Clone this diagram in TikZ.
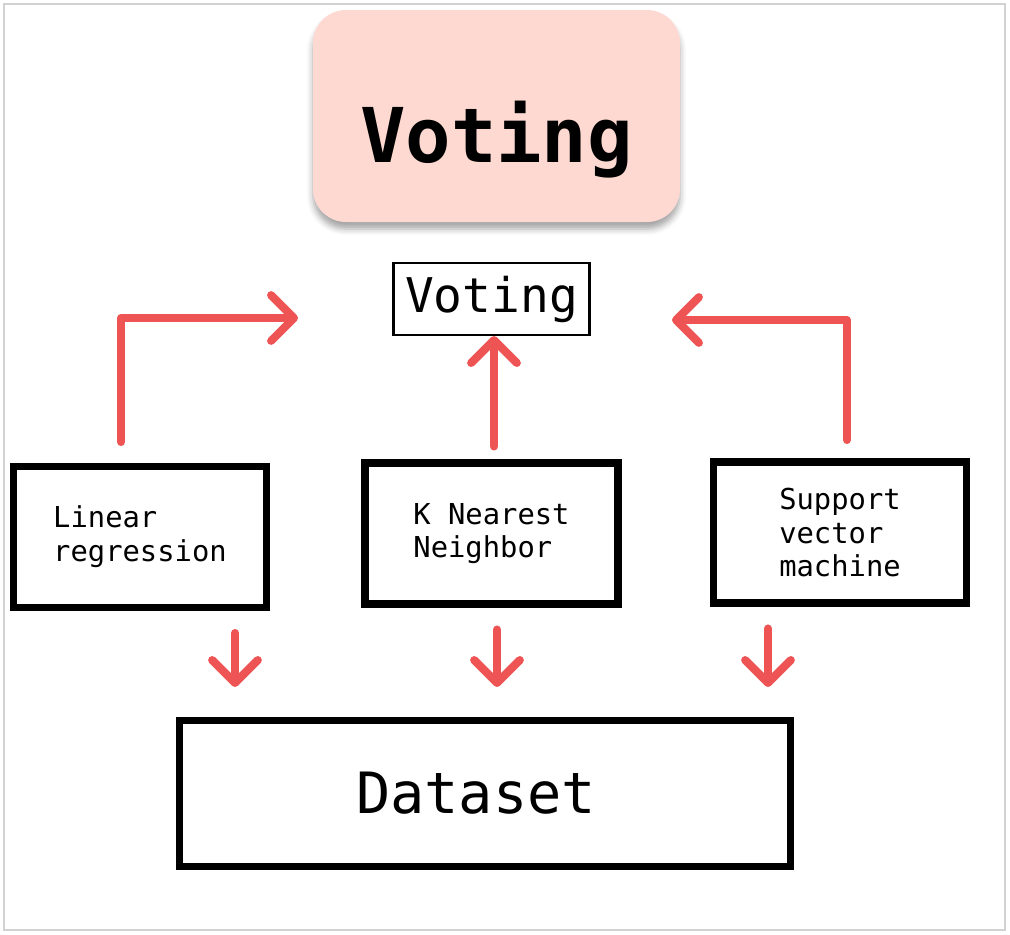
\documentclass[tikz,border=0pt]{standalone}
\usepackage{fontspec}
\setmonofont{DejaVu Sans Mono}
\usetikzlibrary{arrows.meta,shadows.blur}
\definecolor{votered}{RGB}{238,84,84}
\definecolor{votepink}{RGB}{253,217,209}
\begin{document}
\begin{tikzpicture}[
    model/.style={draw=black, line width=2pt, minimum width=2.53cm, minimum height=1.41cm,
        align=left, font=\ttfamily\fontsize{8.2}{9.6}\selectfont},
    vote/.style={draw=votered, line width=2.3pt, line cap=round, line join=round,
        -{Straight Barb[length=6.5pt, width=13pt, round]}}
]
    % Frame
    \useasboundingbox (0,0) rectangle (10.1,-9.35);
    \draw[gray!35, line width=0.4pt] (0.04,-0.04) rectangle (10.05,-9.30);
    % Title
    \node[fill=votepink, rounded corners=0.33cm, minimum width=3.67cm, minimum height=2.12cm,
        blur shadow={shadow xshift=0cm, shadow yshift=-0.07cm, shadow opacity=35, shadow blur radius=0.06cm},
        text height=1.2cm, text depth=0.28cm,
        font=\ttfamily\bfseries\fontsize{21.5}{24}\selectfont]
        (Title) at (4.965,-1.16) {Voting};
    % Voting
    \node[draw, line width=0.6pt, minimum width=1.91cm, minimum height=0.72cm,
        font=\ttfamily\fontsize{13.6}{15}\selectfont]
        (Vote) at (4.915,-2.99) {Voting};
    % Models
    \foreach \name/\text/\x/\y in {LR/Linear\\regression/1.40/5.37,
        KNN/K Nearest\\Neighbor/4.915/5.335, SVM/Support\\vector\\machine/8.40/5.325} {
        \node[model] (\name) at (\x,-\y) {\text};
    }
    % Dataset
    \node[model, minimum width=6.11cm, minimum height=1.46cm,
        font=\ttfamily\fontsize{16.2}{18}\selectfont]
        (Data) at (4.85,-7.935) {Dataset\hspace*{0.18cm}};
    % Arrows
    \coordinate (LR-out) at (1.21,-4.42);
    \coordinate (LR-in) at (2.98,-3.18);
    \coordinate (SVM-out) at (8.47,-4.40);
    \coordinate (SVM-in) at (6.72,-3.20);
    \draw[vote] (LR-out) |- (LR-in);
    \draw[vote] (SVM-out) |- (SVM-in);
    \draw[vote, shorten <=0.13cm] ([xshift=0.025cm]KNN.north) -- ([xshift=0.025cm]Vote.south);
    \foreach \name/\dx in {LR/0.95, KNN/0.055, SVM/-0.72} {
        \draw[vote, shorten <=0.22cm, shorten >=0.30cm]
            ([xshift=\dx cm]\name.south) -- ([xshift=\dx cm]\name.south |- Data.north);
    }
\end{tikzpicture}
\end{document}
